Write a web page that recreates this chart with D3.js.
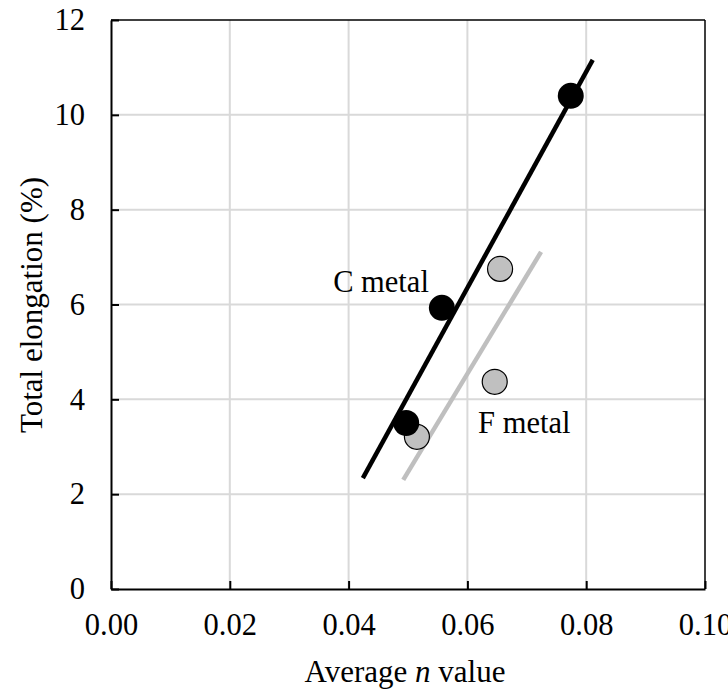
<!DOCTYPE html>
<html><head><meta charset="utf-8">
<script src="https://cdn.jsdelivr.net/npm/d3@7"></script>
<style>body{margin:0;background:#fff}svg{display:block}</style>
</head><body><svg id="c" width="728" height="691"></svg>
<script>
const xTicks = [0, 0.02, 0.04, 0.06, 0.08, 0.10];
const yTicks = [0, 2, 4, 6, 8, 10, 12];
const cX = [0.0497, 0.0557, 0.0774];
const cY = [3.50, 5.93, 10.40];
const fX = [0.0515, 0.0655, 0.0646];
const fY = [3.21, 6.75, 4.37];
const cLineX = [0.0424, 0.0811];
const cLineY = [2.34, 11.16];
const fLineX = [0.0492, 0.0724];
const fLineY = [2.30, 7.11];
const labels = [{t:"C metal", x:0.0374, y:6.26}, {t:"F metal", x:0.0618, y:3.29}];

const FONT = "'Liberation Serif'";
const svg = d3.select("#c");
const x = d3.scaleLinear().domain([0, 0.10]).range([111, 705]);
const y = d3.scaleLinear().domain([0, 12]).range([589, 20]);
function txt(sel, size){ return sel.style("font-family", FONT).style("font-size", (size||30.5)+"px").style("fill", "#000"); }

// grid
svg.append("g").selectAll("line").data(xTicks.slice(1, -1)).join("line")
  .attr("x1", d=>x(d)).attr("x2", d=>x(d)).attr("y1", y(0)).attr("y2", y(12))
  .attr("stroke", "#d9d9d9").attr("stroke-width", 2);
svg.append("g").selectAll("line").data(yTicks.slice(1, -1)).join("line")
  .attr("y1", d=>y(d)).attr("y2", d=>y(d)).attr("x1", x(0)).attr("x2", x(0.10))
  .attr("stroke", "#d9d9d9").attr("stroke-width", 2);

// frame top/right
svg.append("line").attr("x1", x(0)).attr("x2", x(0.10)).attr("y1", y(12)).attr("y2", y(12)).attr("stroke", "#000").attr("stroke-width", 1.5);
svg.append("line").attr("x1", x(0.10)).attr("x2", x(0.10)).attr("y1", y(0)).attr("y2", y(12)).attr("stroke", "#000").attr("stroke-width", 1.5);

// axes
const xAxis = d3.axisBottom(x).tickValues(xTicks).tickFormat(d3.format(".2f")).tickSizeInner(-8).tickSizeOuter(0).tickPadding(24);
const gx = svg.append("g").attr("transform", `translate(0,${y(0)})`).call(xAxis);
gx.attr("font-family", null).attr("font-size", null);
gx.select(".domain").attr("stroke", "#000").attr("stroke-width", 2);
gx.selectAll(".tick line").attr("stroke", "#000").attr("stroke-width", 2);
txt(gx.selectAll("text"));

const yAxis = d3.axisLeft(y).tickValues(yTicks).tickFormat(d3.format("d")).tickSizeInner(-8).tickSizeOuter(0).tickPadding(26);
const gy = svg.append("g").attr("transform", `translate(${x(0)},0)`).call(yAxis);
gy.attr("font-family", null).attr("font-size", null);
gy.select(".domain").attr("stroke", "#000").attr("stroke-width", 2);
gy.selectAll(".tick line").attr("stroke", "#000").attr("stroke-width", 2);
txt(gy.selectAll("text"));

// titles
const xt = txt(svg.append("text").attr("x", 405).attr("y", 682).attr("text-anchor", "middle"), 31);
xt.append("tspan").text("Average ");
xt.append("tspan").style("font-style", "italic").text("n");
xt.append("tspan").text(" value");
txt(svg.append("text").attr("transform", "translate(42,305) rotate(-90)").attr("text-anchor", "middle"), 31).text("Total elongation (%)");

// trend lines
const line = d3.line().x(d=>x(d[0])).y(d=>y(d[1]));
svg.append("path").datum(d3.zip(fLineX, fLineY)).attr("d", line).attr("stroke", "#bfbfbf").attr("stroke-width", 4.5).attr("fill", "none");
svg.append("path").datum(d3.zip(cLineX, cLineY)).attr("d", line).attr("stroke", "#000").attr("stroke-width", 4.5).attr("fill", "none");

// points
svg.append("g").selectAll("circle").data(d3.zip(fX, fY)).join("circle")
  .attr("cx", d=>x(d[0])).attr("cy", d=>y(d[1])).attr("r", 12.5)
  .attr("fill", "#c0c0c0").attr("stroke", "#000").attr("stroke-width", 1.2);
svg.append("g").selectAll("circle").data(d3.zip(cX, cY)).join("circle")
  .attr("cx", d=>x(d[0])).attr("cy", d=>y(d[1])).attr("r", 13)
  .attr("fill", "#000");

txt(svg.append("g").selectAll("text").data(labels).join("text")
  .attr("x", d=>x(d.x)).attr("y", d=>y(d.y))).text(d=>d.t);
</script></body></html>
